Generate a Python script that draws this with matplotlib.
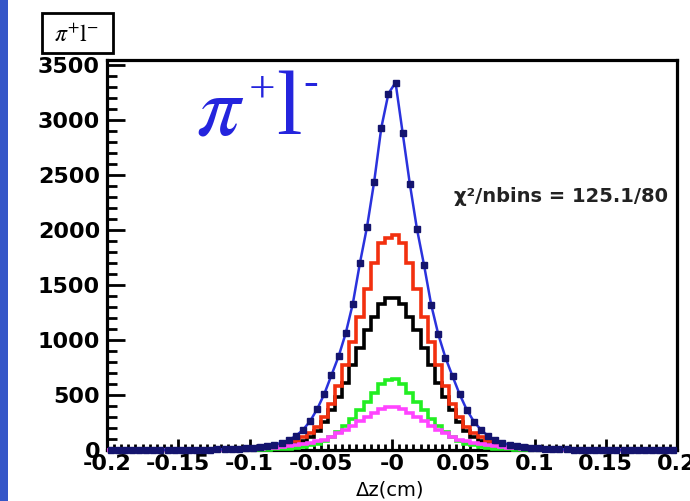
import numpy as np
import matplotlib
matplotlib.use('Agg')
import matplotlib.pyplot as plt
from matplotlib.patches import Rectangle
from matplotlib.ticker import MultipleLocator

plt.rcParams['mathtext.fontset'] = 'stix'
plt.rcParams['font.family'] = ['DejaVu Sans']

# ---------------- data (80 bins from -0.2 to 0.2 cm) ----------------
x_range = (-0.2, 0.2)
n_bins = 80

data_blue = [0, 0, 0, 0, 0, 1, 1, 1, 1, 2,
             2, 2, 3, 3, 4, 5, 6, 8, 11, 15,
             20, 27, 36, 48, 65, 90, 128, 182, 262, 372,
             510, 680, 850, 1060, 1330, 1700, 2030, 2440, 2930, 3240,
             3340, 2880, 2420, 2010, 1680, 1320, 1050, 840, 670, 505,
             365, 258, 182, 128, 90, 65, 48, 36, 27, 20,
             15, 11, 8, 6, 5, 4, 3, 3, 2, 2,
             1, 1, 1, 1, 0, 0, 0, 0, 0, 0]

hist_red = [0, 0, 0, 0, 0, 0, 0, 0, 0, 0,
            1, 1, 1, 2, 2, 3, 4, 5, 7, 9,
            12, 16, 22, 31, 44, 62, 86, 120, 155, 212,
            300, 420, 580, 770, 980, 1210, 1460, 1700, 1880, 1930,
            1950, 1880, 1700, 1460, 1210, 980, 770, 580, 420, 300,
            212, 155, 120, 86, 62, 44, 31, 22, 16, 12,
            9, 7, 5, 4, 3, 2, 2, 1, 1, 1,
            0, 0, 0, 0, 0, 0, 0, 0, 0, 0]

hist_black = [0, 0, 0, 0, 0, 0, 0, 0, 0, 0,
              0, 0, 0, 1, 1, 1, 2, 3, 4, 5,
              7, 9, 13, 18, 26, 37, 54, 80, 117, 176,
              255, 360, 480, 610, 770, 930, 1090, 1210, 1330, 1380,
              1385, 1330, 1210, 1090, 930, 770, 610, 480, 360, 255,
              176, 117, 80, 54, 37, 26, 18, 13, 9, 7,
              5, 4, 3, 2, 1, 1, 1, 0, 0, 0,
              0, 0, 0, 0, 0, 0, 0, 0, 0, 0]

hist_green = [0, 0, 0, 0, 0, 0, 0, 0, 0, 0,
              0, 0, 0, 0, 0, 0, 0, 1, 1, 1,
              2, 3, 4, 6, 9, 13, 19, 28, 41, 59,
              85, 120, 165, 220, 285, 360, 440, 520, 600, 640,
              645, 600, 520, 440, 360, 285, 220, 165, 120, 85,
              59, 41, 28, 19, 13, 9, 6, 4, 3, 2,
              1, 1, 1, 0, 0, 0, 0, 0, 0, 0,
              0, 0, 0, 0, 0, 0, 0, 0, 0, 0]

hist_magenta = [0, 0, 0, 0, 0, 0, 0, 0, 0, 0,
                0, 1, 1, 1, 2, 2, 3, 4, 5, 6,
                8, 11, 15, 20, 27, 35, 44, 54, 65, 79,
                95, 120, 150, 185, 220, 260, 300, 340, 375, 392,
                395, 375, 340, 300, 260, 220, 185, 150, 120, 95,
                79, 65, 54, 44, 35, 27, 20, 15, 11, 8,
                6, 5, 4, 3, 2, 2, 1, 1, 1, 0,
                0, 0, 0, 0, 0, 0, 0, 0, 0, 0]

x_ticks = [-0.2, -0.15, -0.1, -0.05, 0.0, 0.05, 0.1, 0.15, 0.2]
x_tick_labels = ['-0.2', '-0.15', '-0.1', '-0.05', '-0', '0.05', '0.1', '0.15', '0.2']
y_ticks = [0, 500, 1000, 1500, 2000, 2500, 3000, 3500]
y_tick_labels = ['0', '500', '1000', '1500', '2000', '2500', '3000', '3500']

chi2_text = 'χ²/nbins = 125.1/80'
title_text = r'$\pi^{+}\mathrm{l}^{-}$'
xlabel_text = 'Δz(cm)'

# ---------------- figure ----------------
W, H = 690, 501
fig = plt.figure(figsize=(W / 100, H / 100), dpi=100)
fig.patch.set_facecolor('white')

# left blue strip
fig.patches.append(Rectangle((0, 0), 8 / W, 1, transform=fig.transFigure,
                             facecolor='#3556c8', edgecolor='none'))

ax = fig.add_axes([107 / W, 51 / H, 570 / W, 390 / H])
edges = np.linspace(x_range[0], x_range[1], n_bins + 1)
centers = 0.5 * (edges[:-1] + edges[1:])

ax.stairs(hist_black, edges, color='black', lw=2.6, zorder=3, clip_on=False)
ax.stairs(hist_red, edges, color='#f2300f', lw=2.6, zorder=3.1, clip_on=False)
ax.stairs(hist_green, edges, color='#22ee22', lw=2.6, zorder=3.2, clip_on=False)
ax.stairs(hist_magenta, edges, color='#ff44ff', lw=2.6, zorder=3.3, clip_on=False)
ax.plot(centers, data_blue, color='#2a32dd', lw=1.8, zorder=4, clip_on=False)
ax.plot(centers, data_blue, ls='none', marker='s', ms=4.2, color='#14146e',
        zorder=5, clip_on=False)

ax.set_xlim(*x_range)
ax.set_ylim(0, 3545)

for s in ['top', 'bottom', 'left', 'right']:
    ax.spines[s].set_linewidth(2.3)
    ax.spines[s].set_zorder(2)

ax.set_xticks(x_ticks)
ax.set_xticklabels(x_tick_labels)
ax.set_yticks(y_ticks)
ax.set_yticklabels(y_tick_labels)
ax.xaxis.set_minor_locator(MultipleLocator(0.005))
ax.yaxis.set_minor_locator(MultipleLocator(100))

ax.tick_params(axis='both', which='both', direction='in', top=False, right=False)
ax.tick_params(axis='y', which='major', length=13, width=2, pad=5)
ax.tick_params(axis='y', which='minor', length=7, width=2)
ax.tick_params(axis='x', which='major', length=8, width=2, pad=3)
ax.tick_params(axis='x', which='minor', length=4, width=2)
for lab in ax.get_xticklabels() + ax.get_yticklabels():
    lab.set_fontsize(16)
    lab.set_fontweight('bold')

ax.text(0.984, 0.651, chi2_text, transform=ax.transAxes, ha='right', va='center',
        fontsize=14, fontweight='bold', color='#222222')

# big blue label, composed as pi, superscript +, l, superscript -
blue_txt = '#2424dd'
serif = ['Liberation Serif', 'DejaVu Serif']
fig.text(196 / W, 1 - 134 / H, r'$\pi$', ha='left', va='baseline',
         fontsize=62, color=blue_txt)
fig.text(262 / W, 1 - 90 / H, '+', ha='center', va='center',
         fontsize=34, color=blue_txt, family=serif)
fig.text(276 / W, 1 - 134 / H, 'l', ha='left', va='baseline',
         fontsize=66, color=blue_txt, family=serif)
fig.text(311 / W, 1 - 84 / H, '-', ha='center', va='center',
         fontsize=32, color=blue_txt, family=serif)

# small title box
fig.patches.append(Rectangle((42 / W, 1 - 53 / H), 71 / W, 40 / H,
                             transform=fig.transFigure, fill=False,
                             edgecolor='black', lw=2))
fig.text(77 / W, 1 - 35 / H, title_text, ha='center', va='center', fontsize=17)

fig.text(390 / W, 1 - 490 / H, xlabel_text, ha='center', va='center', fontsize=14)

fig.savefig('out.png', dpi=100)
